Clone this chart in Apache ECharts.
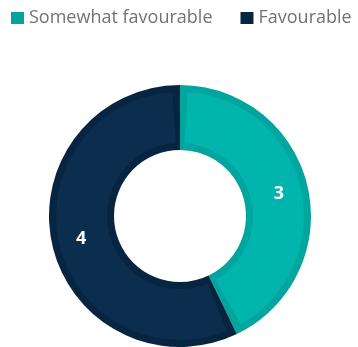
<!DOCTYPE html>
<html>
<head>
<meta charset="utf-8">
<script src="https://cdn.jsdelivr.net/npm/echarts@6/dist/echarts.min.js"></script>
<style>
  html, body { margin: 0; padding: 0; background: #ffffff; }
  #chart { width: 358px; height: 347px; }
</style>
</head>
<body>
<div id="chart"></div>
<script>
// Survey response counts
const categories = ['Somewhat favourable', 'Favourable'];
const values = [3, 4];
const fillColors = ['#00B5AD', '#0B2D4E'];
const edgeColors = ['#00A69E', '#072541'];

const center = [180, 216];

const chart = echarts.init(document.getElementById('chart'), null, { renderer: 'canvas' });

const edgeData = categories.map((name, i) => ({
  name, value: values[i], itemStyle: { color: edgeColors[i] }
}));
const fillData = categories.map((name, i) => ({
  name, value: values[i], itemStyle: { color: fillColors[i] }
}));

chart.setOption({
  animation: false,
  color: fillColors,
  legend: {
    data: categories,
    left: 6,
    top: 4,
    icon: 'rect',
    itemWidth: 13,
    itemHeight: 12,
    itemGap: 28,
    textStyle: { fontFamily: 'Open Sans', fontSize: 18, color: '#767171' }
  },
  series: [
    {
      // darker outline ring underneath
      type: 'pie',
      center, radius: [66, 131],
      startAngle: 90, clockwise: true,
      silent: true,
      label: { show: false }, labelLine: { show: false },
      data: edgeData
    },
    {
      // inset fill on top
      type: 'pie',
      center, radius: [73, 124],
      startAngle: 90, clockwise: true,
      padAngle: 7,
      silent: true,
      label: {
        show: true, position: 'inside',
        formatter: '{c}',
        color: '#ffffff', fontWeight: 'bold', fontSize: 18,
        fontFamily: 'Open Sans'
      },
      labelLine: { show: false },
      data: fillData
    }
  ]
});
</script>
</body>
</html>
